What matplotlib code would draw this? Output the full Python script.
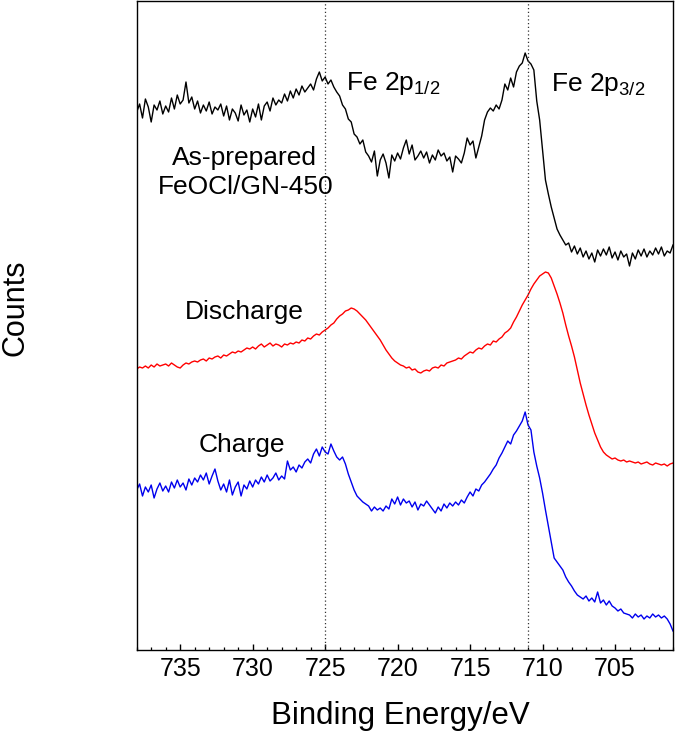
import numpy as np
import matplotlib
matplotlib.use("Agg")
import matplotlib.pyplot as plt
from matplotlib.ticker import MultipleLocator

plt.rcParams['font.family'] = ['Liberation Sans', 'DejaVu Sans']
plt.rcParams['mathtext.default'] = 'regular'

# Binding energy grid (eV), 0.2 eV steps from 738.0 down to 701.0
energy = np.round(np.linspace(738.0, 701.0, 186), 1)

as_prepared = [
    538, 546, 532, 551, 543, 528, 545, 540, 549, 536,
    544, 538, 552, 541, 555, 546, 550, 568, 547, 553,
    541, 549, 537, 545, 539, 548, 536, 543, 540, 546,
    534, 544, 530, 541, 537, 529, 545, 535, 540, 528,
    541, 533, 546, 530, 544, 548, 539, 552, 545, 550,
    547, 556, 549, 559, 552, 561, 555, 564, 558, 562,
    566, 560, 571, 578, 569, 573, 566, 570, 563, 558,
    554, 545, 541, 531, 528, 516, 513, 506, 510, 498,
    494, 488, 499, 474, 490, 496, 487, 472, 495, 489,
    497, 491, 502, 510, 496, 505, 490, 494, 499, 492,
    498, 487, 495, 490, 500, 494, 497, 489, 493, 478,
    494, 491, 487, 497, 512, 505, 509, 492, 503, 514,
    530, 538, 542, 539, 545, 541, 550, 566, 560, 572,
    563, 578, 584, 587, 597, 589, 586, 580, 549, 530,
    500, 470, 456, 443, 432, 421, 415, 410, 405, 407,
    398, 404, 396, 402, 393, 399, 391, 397, 388, 400,
    394, 401, 395, 403, 392, 398, 390, 399, 393, 396,
    384, 397, 391, 400, 394, 401, 393, 399, 395, 402,
    396, 403, 394, 399, 397, 405,
]

discharge = [
    281, 283, 282, 284, 282, 285, 283, 286, 284, 285,
    286, 284, 287, 285, 283, 282, 285, 287, 286, 288,
    289, 288, 290, 291, 289, 292, 291, 293, 294, 292,
    295, 294, 296, 298, 297, 299, 298, 300, 302, 301,
    303, 301, 304, 306, 303, 305, 307, 304, 306, 305,
    303, 306, 305, 307, 306, 308, 307, 310, 309, 312,
    311, 314, 316, 315, 318, 320, 322, 325, 327, 331,
    334, 336, 339, 340, 342, 341, 339, 336, 333, 330,
    326, 322, 318, 314, 310, 305, 300, 296, 292, 289,
    287, 285, 284, 282, 283, 280, 281, 278, 277, 279,
    280, 279, 282, 283, 282, 285, 284, 287, 288, 289,
    290, 292, 291, 294, 296, 298, 297, 300, 302, 301,
    304, 306, 305, 309, 308, 311, 313, 317, 319, 322,
    328, 333, 339, 345, 350, 355, 361, 366, 370, 374,
    376, 378, 377, 372, 364, 356, 347, 337, 325, 314,
    304, 293, 280, 267, 256, 245, 235, 226, 217, 210,
    203, 198, 195, 193, 191, 192, 190, 189, 190, 188,
    189, 188, 187, 188, 186, 187, 188, 186, 185, 187,
    186, 185, 186, 184, 186, 187,
]

charge = [
    160, 166, 154, 163, 158, 165, 152, 161, 167, 159,
    164, 158, 168, 162, 170, 163, 167, 160, 171, 165,
    172, 168, 175, 170, 177, 166, 174, 181, 169, 160,
    166, 158, 170, 155, 163, 168, 154, 165, 161, 169,
    163, 170, 166, 173, 168, 175, 169, 172, 177, 170,
    174, 171, 189, 180, 183, 178, 185, 182, 188, 191,
    187, 196, 201, 194, 203, 198, 196, 206, 199, 193,
    190, 193, 186, 176, 168, 160, 154, 151, 148, 146,
    144, 139, 143, 140, 142, 139, 144, 141, 151, 146,
    153, 145, 151, 147, 149, 143, 148, 140, 146, 144,
    149, 145, 141, 137, 143, 139, 146, 142, 147, 144,
    148, 145, 150, 147, 153, 158, 154, 161, 159, 165,
    168, 172, 176, 181, 185, 192, 197, 203, 209, 206,
    215, 219, 224, 229, 238, 225, 220, 198, 184, 172,
    157, 140, 124, 108, 92, 88, 84, 80, 73, 68,
    64, 59, 55, 53, 51, 54, 49, 52, 48, 58,
    47, 50, 45, 49, 44, 42, 39, 41, 37, 36,
    35, 32, 36, 33, 35, 31, 34, 32, 36, 33,
    35, 32, 34, 31, 26, 19,
]

peak_positions = [725.0, 711.0]

fig = plt.figure(figsize=(6.75, 7.31), dpi=100)
W, H = 675, 731
ax = fig.add_axes([136.7 / W, 1 - 650 / H, (673 - 136.7) / W, (650 - 1) / H])

ax.plot(energy, as_prepared, color='black', lw=1.0)
ax.plot(energy, discharge, color='#ff0000', lw=1.0)
ax.plot(energy, charge, color='#0000ee', lw=1.0)

for p in peak_positions:
    ax.axvline(p, color='#333333', lw=0.9, linestyle=(0, (1, 2)))

ax.set_xlim(738, 701)
ax.set_ylim(0, 649)

ax.xaxis.set_major_locator(MultipleLocator(5))
ax.xaxis.set_minor_locator(MultipleLocator(1))
ax.tick_params(axis='x', which='major', direction='in', length=4, width=1.0,
               labelsize=18, pad=5, top=False)
ax.tick_params(axis='x', which='minor', direction='in', length=2, width=0.9, top=False)
ax.set_yticks([])
for s in ax.spines.values():
    s.set_linewidth(1.0)

fs = 19
ax.text(730.6, 485.5, 'As-prepared', ha='center', va='baseline', fontsize=fs)
ax.text(730.5, 455.5, 'FeOCl/GN-450', ha='center', va='baseline', fontsize=fs)
ax.text(730.6, 331, 'Discharge', ha='center', va='baseline', fontsize=fs)
ax.text(730.75, 198, 'Charge', ha='center', va='baseline', fontsize=fs)
ax.text(723.53, 560, 'Fe 2p$_{1/2}$', ha='left', va='baseline', fontsize=fs)
ax.text(709.44, 559.5, 'Fe 2p$_{3/2}$', ha='left', va='baseline', fontsize=fs)

fig.text(400 / W, 1 - 723.7 / H, 'Binding Energy/eV', ha='center', va='baseline', fontsize=22.5)
fig.text(15.5 / W, 1 - 308 / H, 'Counts', rotation=90, ha='center', va='center', fontsize=22)

fig.savefig('out.png', dpi=100)
